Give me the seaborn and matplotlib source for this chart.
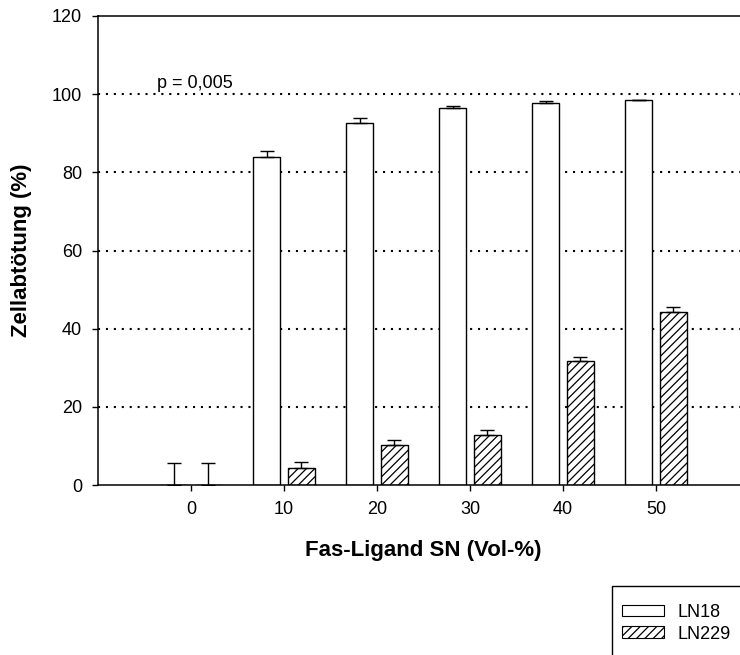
import matplotlib
matplotlib.use("Agg")
import matplotlib.pyplot as plt
from matplotlib.patches import Patch, Rectangle
import numpy as np
import pandas as pd
import seaborn as sns

# Fas-ligand supernatant concentration (vol-%)
concentrations = ["0", "10", "20", "30", "40", "50"]
# Cell killing (%) per cell line, with standard errors
ln18_kill = [0.0, 84.0, 92.5, 96.4, 97.7, 98.4]
ln18_err = [5.6, 1.4, 1.3, 0.5, 0.5, 0.2]
ln229_kill = [0.0, 4.3, 10.2, 12.8, 31.6, 44.2]
ln229_err = [5.6, 1.7, 1.3, 1.3, 1.2, 1.3]
cell_lines = ["LN18", "LN229"]
y_ticks = [0, 20, 40, 60, 80, 100, 120]
grid_levels = [20, 40, 60, 80, 100]
p_label = "p = 0,005"

df = pd.DataFrame({
    "conc": concentrations * 2,
    "kill": ln18_kill + ln229_kill,
    "line": [cell_lines[0]] * len(concentrations) + [cell_lines[1]] * len(concentrations),
})

sns.set_style("ticks")
plt.rcParams["font.family"] = ["Liberation Sans", "DejaVu Sans"]
plt.rcParams["hatch.linewidth"] = 0.9
plt.rcParams["text.color"] = "black"
plt.rcParams["axes.labelcolor"] = "black"

fig = plt.figure(figsize=(7.4, 6.55), dpi=100)
ax = fig.add_axes([98 / 740, 1 - 485 / 655, (749 - 98) / 740, (485 - 16) / 655])

sns.barplot(
    data=df, x="conc", y="kill", hue="line", order=concentrations,
    hue_order=cell_lines, palette={"LN18": "white", "LN229": "white"},
    edgecolor="black", linewidth=1.0, width=0.75, gap=0.23,
    errorbar=None, legend=False, ax=ax, zorder=2,
)

# hatch the LN229 bars and add upward error bars
hatches = [None, "////"]
for container, vals, errs, h in zip(ax.containers, [ln18_kill, ln229_kill],
                                    [ln18_err, ln229_err], hatches):
    xs = []
    for patch in container:
        patch.set_hatch(h)
        xs.append(patch.get_x() + patch.get_width() / 2)
    ax.errorbar(xs, vals, yerr=[np.zeros(len(errs)), errs], fmt="none",
                ecolor="black", elinewidth=1.0, capsize=5, capthick=1.0, zorder=3)

ax.set_xlim(-1, 6)
ax.set_ylim(0, 120)
ax.set_yticks(y_ticks)
ax.grid(False)
# dotted reference lines behind the bars
ax.hlines(grid_levels, -1, 6, colors="black", linestyles=[(0, (1, 2.8))],
          linewidth=1.5, zorder=1)

for side in ["left", "bottom", "top"]:
    ax.spines[side].set_visible(True)
    ax.spines[side].set_color("black")
    ax.spines[side].set_linewidth(1.1)
ax.spines["right"].set_visible(False)

ax.tick_params(axis="both", direction="out", length=4.5, width=1.0,
               color="black", labelsize=13, pad=7, labelcolor="black")
ax.tick_params(axis="x", top=False)

ax.set_xlabel("Fas-Ligand SN (Vol-%)", fontsize=16, fontweight="bold", labelpad=16)
ax.set_ylabel("Zellabtötung (%)", fontsize=16, fontweight="bold", labelpad=14)

ax.text(-0.37, 101.5, p_label, fontsize=13, color="black")

# legend box in the lower right corner
fig.add_artist(Rectangle((612 / 740, -0.05), 0.3, 1 - 586 / 655 + 0.05,
                         transform=fig.transFigure, facecolor="white",
                         edgecolor="black", linewidth=1.0))
handles = [Patch(facecolor="white", edgecolor="black", linewidth=0.8, hatch=h, label=lbl)
           for h, lbl in zip(hatches, cell_lines)]
fig.legend(handles=handles, loc="upper left", bbox_to_anchor=(622 / 740, 1 - 604 / 655),
           frameon=False, fontsize=13, handlelength=2.3, handleheight=0.6,
           handletextpad=0.75, labelspacing=0.25, borderpad=0, borderaxespad=0)

fig.savefig("out.png", dpi=100)
